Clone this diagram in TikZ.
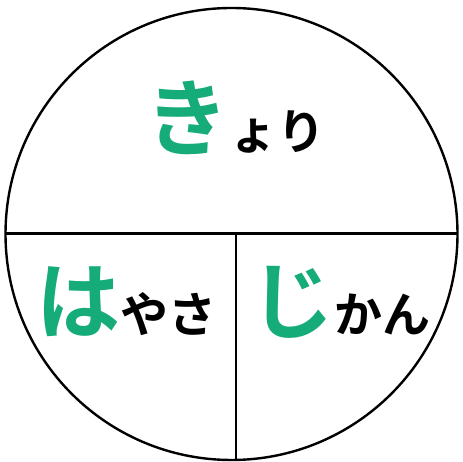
\documentclass[tikz,border=0pt]{standalone}
\usepackage{fontspec}
\newfontfamily\jp{Noto Sans CJK JP Bold}
\definecolor{kgreen}{RGB}{22,172,122}
\begin{document}
\begin{tikzpicture}[x=1pt,y=1pt,
  big/.style={inner sep=0pt,outer sep=0pt,anchor=base west,text=kgreen,font=\jp\fontsize{84}{84}\selectfont},
  small/.style={inner sep=0pt,outer sep=0pt,anchor=base west,text=black,font=\jp\fontsize{48}{48}\selectfont},
  edge/.style={draw=black,line width=2.4pt}]
\useasboundingbox (0,0) rectangle (463,462);
\coordinate (c) at (231.5,228);
\draw[edge] (c) circle (226);
\coordinate (hl) at (5.5,228.5);
\coordinate (hr) at (457.5,228.5);
\coordinate (vt) at (236,228.5);
\coordinate (vb) at (236,2);
\draw[edge] (hl) -- (hr);
\draw[edge] (vt) -- (vb);
\node[big] (k1) at (145,312) {き};
\node[small,anchor=base west] (k2) at (k1.base east) {ょり};
\node[big] (h1) at (36,129) {は};
\node[small] (h2) at (h1.base east) {やさ};
\node[big] (j1) at (250,129) {じ};
\node[small] (j2) at (j1.base east) {かん};
\end{tikzpicture}
\end{document}
